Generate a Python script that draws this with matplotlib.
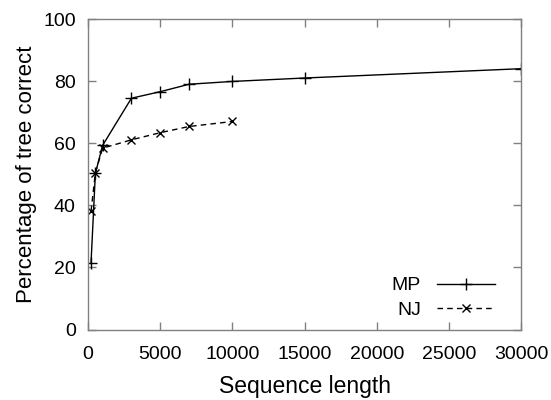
import numpy as np
import matplotlib.pyplot as plt

plt.rcParams['font.family'] = ['Liberation Sans', 'DejaVu Sans']

# MP (maximum parsimony)
mpLength = [200, 500, 1000, 3000, 5000, 7000, 10000, 15000, 30000]
mpCorrect = [21.6, 50.3, 59.3, 74.5, 76.6, 79.0, 79.9, 81.0, 84.0]

# NJ (neighbour joining)
njLength = [200, 500, 1000, 3000, 5000, 7000, 10000]
njCorrect = [38.1, 50.5, 58.4, 61.1, 63.4, 65.4, 67.0]

xTicks = [0, 5000, 10000, 15000, 20000, 25000, 30000]
yTicks = [0, 20, 40, 60, 80, 100]

fig = plt.figure(figsize=(5.51, 4.0), dpi=100)
ax = fig.add_axes([0.16, 0.176, 0.7855, 0.7765])

ax.plot(mpLength, mpCorrect, color='black', lw=1.0, marker='+', ms=8, mew=1.0, label='MP')
ax.plot(njLength, njCorrect, color='black', lw=1.0, ls=(0, (4, 3)), marker='x', ms=6, mew=1.0, label='NJ')

ax.set_xlim(0, 30000)
ax.set_ylim(0, 100)
ax.set_xticks(xTicks)
ax.set_yticks(yTicks)

frameColor = '#808080'
for s in ax.spines.values():
    s.set_color(frameColor)
    s.set_linewidth(1.0)
ax.tick_params(direction='in', top=True, right=True, length=6, width=1.0,
               color=frameColor, labelsize=14)
ax.tick_params(axis='x', pad=11.5)
ax.tick_params(axis='y', pad=9)

ax.set_xlabel('Sequence length', fontsize=16.5, labelpad=9)
ax.set_ylabel('Percentage of tree correct', fontsize=16, labelpad=4)

leg = ax.legend(loc='lower right', frameon=False, markerfirst=False, fontsize=14,
                handlelength=3.0, handletextpad=0.8, borderpad=0, borderaxespad=0,
                labelspacing=0.35, bbox_to_anchor=(0.94, 0.035))

plt.savefig('out.png', dpi=100)
